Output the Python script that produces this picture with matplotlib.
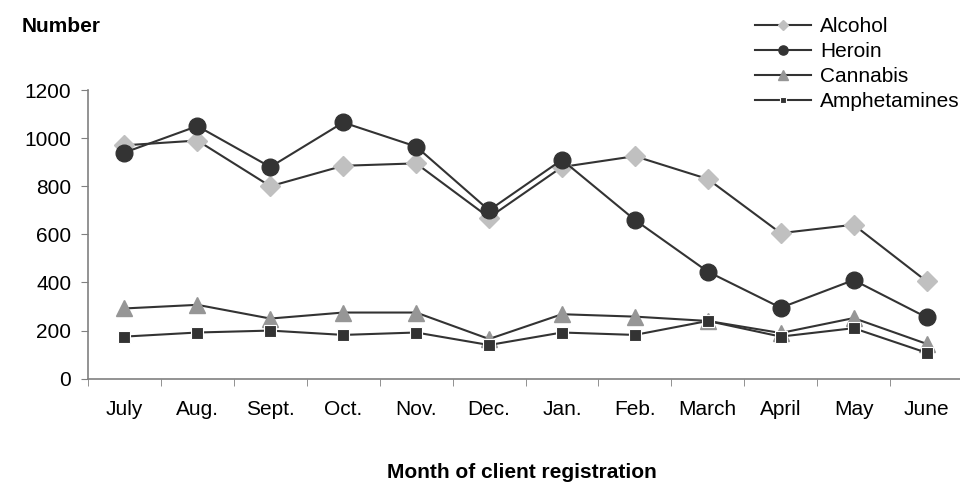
import matplotlib.pyplot as plt
import numpy as np

plt.rcParams['font.family'] = ['Liberation Sans', 'DejaVu Sans']

months = ['July', 'Aug.', 'Sept.', 'Oct.', 'Nov.', 'Dec.', 'Jan.', 'Feb.', 'March', 'April', 'May', 'June']
alcohol = [970, 990, 800, 885, 895, 670, 880, 925, 830, 605, 640, 405]
heroin = [940, 1050, 880, 1065, 965, 700, 910, 660, 445, 295, 410, 255]
cannabis = [292, 307, 250, 275, 275, 165, 268, 258, 240, 190, 252, 145]
amphetamines = [175, 192, 200, 182, 192, 140, 192, 182, 240, 175, 210, 108]

x = np.arange(len(months))
line_col = '#333333'

fig = plt.figure(figsize=(9.6, 4.84), dpi=100)
ax = fig.add_axes([88 / 960, 1 - 378.7 / 484, (963 - 88) / 960, (378.7 - 90) / 484])

ax.plot(x, alcohol, color=line_col, lw=1.5, marker='D', ms=10, mfc='#C0C0C0', mec='#C0C0C0',
        label='Alcohol', clip_on=False)
ax.plot(x, heroin, color=line_col, lw=1.5, marker='o', ms=12, mfc=line_col, mec=line_col,
        label='Heroin', clip_on=False)
ax.plot(x, cannabis, color=line_col, lw=1.5, marker='^', ms=12, mfc='#969696', mec='#969696',
        label='Cannabis', clip_on=False)
ax.plot(x, amphetamines, color=line_col, lw=1.5, marker='s', ms=9, mfc=line_col, mec='white',
        mew=0.8, label='Amphetamines', clip_on=False)

ax.set_xlim(-0.5, 11.5)
ax.set_ylim(0, 1200)
ax.set_yticks(range(0, 1201, 200))
ax.set_xticks(x)
ax.set_xticklabels(months)
ax.set_xticks(np.arange(-0.5, 12, 1), minor=True)
ax.tick_params(axis='x', which='major', length=0, pad=15, labelsize=15)
ax.tick_params(axis='x', which='minor', length=5, color='#808080')
ax.tick_params(axis='y', length=5, color='#808080', labelsize=15, pad=7)

for s in ['top', 'right']:
    ax.spines[s].set_visible(False)
for s in ['left', 'bottom']:
    ax.spines[s].set_color('#808080')
    ax.spines[s].set_linewidth(1.2)

fig.text(22 / 960, 1 - 26 / 484, 'Number', fontsize=15, fontweight='bold', va='center')
fig.text(522 / 960, 1 - 473 / 484, 'Month of client registration', fontsize=15,
         fontweight='bold', ha='center', va='center')

leg = ax.legend(loc='upper left', bbox_to_anchor=(751 / 960, 1 - 13 / 484),
                bbox_transform=fig.transFigure, frameon=False, fontsize=15,
                markerscale=0.55, handlelength=2.7, handletextpad=0.4, labelspacing=0.29,
                borderaxespad=0, borderpad=0.2)

fig.savefig('out.png', dpi=100)
